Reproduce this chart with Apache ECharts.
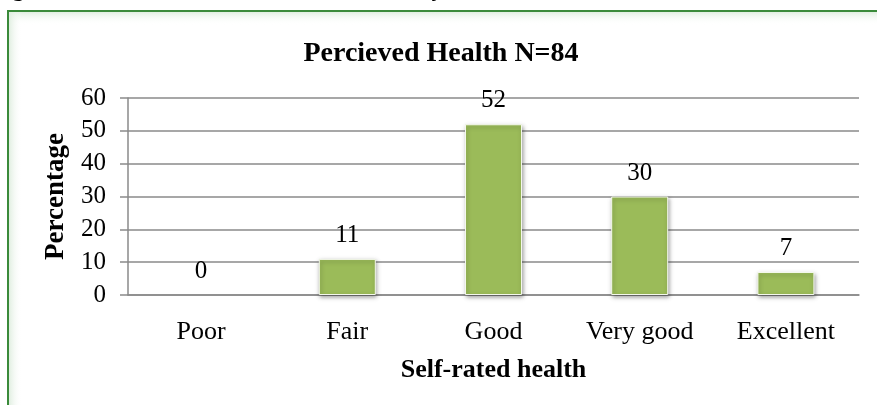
<!DOCTYPE html>
<html lang="en">
<head>
  <meta charset="UTF-8">
  <title>Percieved Health</title>
  <script src="https://cdn.jsdelivr.net/npm/echarts@6/dist/echarts.min.js"></script>
  <style>
    html, body { margin: 0; padding: 0; background: #fff; }
    #main { width: 877px; height: 405px; }
  </style>
</head>
<body>
<div id="main"></div>
<script type="text/javascript">
  const categories = ['Poor', 'Fair', 'Good', 'Very good', 'Excellent']
  const percentages = [0, 11, 52, 30, 7]
  const yTicks = [0, 10, 20, 30, 40, 50, 60]

  const serif = 'Liberation Serif, Times New Roman, serif'
  const gridColor = '#8a8a8a'

  const chart = echarts.init(document.getElementById('main'))

  // zero bars get no border or shadow, so nothing shows at "Poor"
  const barData = percentages.map((v) => {
    return v === 0
      ? { value: v, itemStyle: { borderWidth: 0, shadowBlur: 0, shadowOffsetY: 0, shadowOffsetX: 0 } }
      : v
  })

  const option = {
    backgroundColor: '#fff',
    animation: false,
    textStyle: { fontFamily: serif, color: '#000' },
    title: {
      text: 'Percieved Health N=84',
      left: 436,
      top: 35,
      textAlign: 'center',
      textStyle: { fontFamily: serif, fontSize: 28, fontWeight: 'bold', color: '#000' }
    },
    graphic: [
      // caption of the document, cut off at the top edge
      {
        type: 'text', left: -9, top: -22, z: 10,
        style: { text: 'Figure 6:', font: 'bold 24px ' + serif, fill: '#000' }
      },
      {
        type: 'text', right: 251, top: -22, z: 10,
        style: { text: 'Perceived Health by Self-rated Health', font: 'bold 24px ' + serif, fill: '#000' }
      },
      // soft green glow inside the frame
      {
        type: 'rect', shape: { x: 8, y: 11, width: 880, height: 14 }, z: -2, silent: true,
        style: {
          fill: new echarts.graphic.LinearGradient(0, 0, 0, 1, [
            { offset: 0, color: '#dcecdc' }, { offset: 1, color: 'rgba(255,255,255,0)' }
          ])
        }
      },
      {
        type: 'rect', shape: { x: 8, y: 11, width: 14, height: 400 }, z: -2, silent: true,
        style: {
          fill: new echarts.graphic.LinearGradient(0, 0, 1, 0, [
            { offset: 0, color: '#dcecdc' }, { offset: 1, color: 'rgba(255,255,255,0)' }
          ])
        }
      },
      {
        type: 'rect', shape: { x: 8, y: 11, width: 900, height: 420 }, z: -1, silent: true,
        style: { fill: 'none', stroke: '#3a8a3a', lineWidth: 2 }
      }
    ],
    grid: { left: 128, top: 98, width: 731, height: 197, containLabel: false },
    xAxis: {
      type: 'category',
      data: categories,
      name: 'Self-rated health',
      nameLocation: 'middle',
      nameGap: 62,
      nameTextStyle: { fontFamily: serif, fontSize: 26, fontWeight: 'bold', color: '#000' },
      axisLine: { lineStyle: { color: gridColor, width: 1.5 } },
      axisTick: { show: false },
      axisLabel: { fontFamily: serif, fontSize: 26, color: '#000', margin: 24 }
    },
    yAxis: {
      type: 'value',
      min: yTicks[0],
      max: yTicks[yTicks.length - 1],
      interval: 10,
      name: 'Percentage',
      nameLocation: 'middle',
      nameGap: 58,
      nameTextStyle: { fontFamily: serif, fontSize: 27, fontWeight: 'bold', color: '#000' },
      axisLine: { show: true, lineStyle: { color: gridColor, width: 1.5 } },
      axisTick: { show: true, inside: false, length: 8, lineStyle: { color: gridColor, width: 1.5 } },
      splitLine: { show: true, lineStyle: { color: gridColor, width: 1.5 } },
      axisLabel: { fontFamily: serif, fontSize: 25, color: '#000', margin: 22 }
    },
    series: [{
      name: 'Percentage',
      type: 'bar',
      data: barData,
      barWidth: 57,
      itemStyle: {
        color: '#9bbb59',
        borderColor: '#f4f8ec',
        borderWidth: 1,
        shadowBlur: 4,
        shadowColor: 'rgba(0,0,0,0.35)',
        shadowOffsetX: 1,
        shadowOffsetY: 2
      },
      label: {
        show: true,
        position: 'top',
        distance: 11,
        fontFamily: serif,
        fontSize: 25,
        color: '#000'
      }
    }]
  }

  chart.setOption(option)
</script>
</body>
</html>
